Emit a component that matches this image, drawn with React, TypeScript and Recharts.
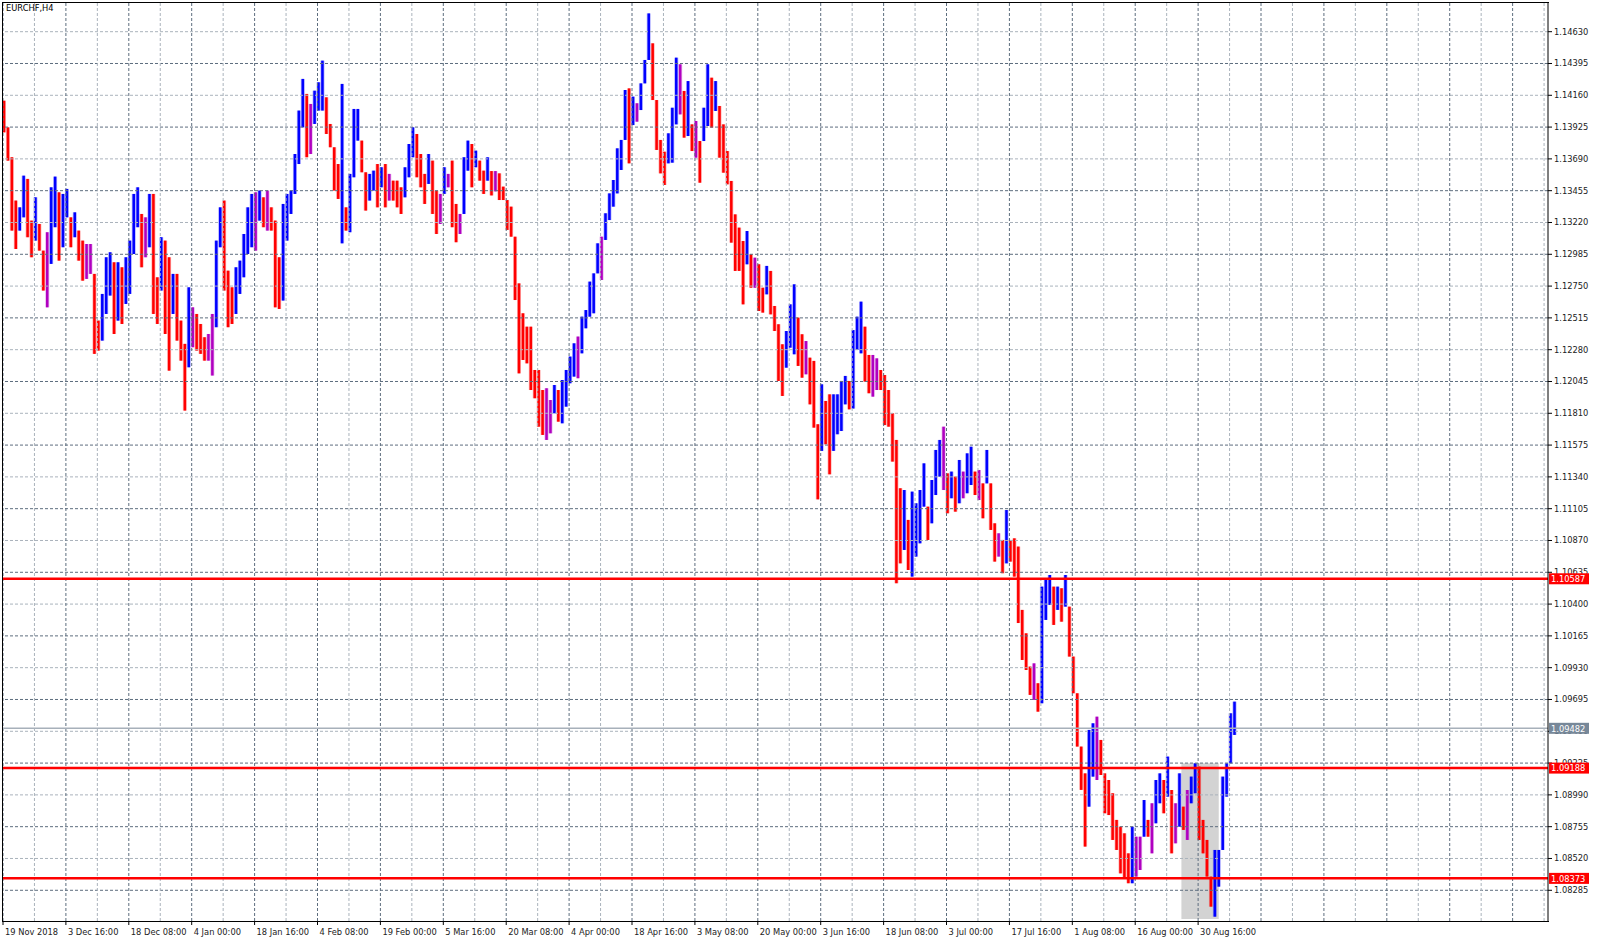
import React from "react";
import {
  ComposedChart,
  Bar,
  Cell,
  XAxis,
  YAxis,
  ReferenceLine,
  ReferenceArea,
} from "recharts";

// EURCHF H4, each entry = 4 consecutive H4 bars (high / low)
const BAR_HIGH = [
  1.1412, 1.13923, 1.13702, 1.13382, 1.13332, 1.13566, 1.13542, 1.13234, 1.13406, 1.13209,
  1.13012, 1.13148, 1.1348, 1.13559, 1.13443, 1.13431, 1.13468, 1.13258, 1.13295, 1.1316,
  1.13086, 1.13061, 1.13061, 1.1284, 1.12495, 1.12692, 1.12963, 1.13, 1.12926, 1.12926,
  1.12889, 1.12963, 1.13086, 1.13431, 1.1348, 1.13283, 1.13258, 1.13431, 1.13431, 1.12815,
  1.13111, 1.13086, 1.12963, 1.1284, 1.1284, 1.12495, 1.12323, 1.12741, 1.12593, 1.12544,
  1.1247, 1.12372, 1.12396, 1.12544, 1.13086, 1.13332, 1.13382, 1.12864, 1.12741, 1.12889,
  1.12938, 1.13135, 1.13332, 1.13431, 1.13443, 1.13456, 1.13406, 1.13456, 1.13332, 1.13234,
  1.12963, 1.13357, 1.13431, 1.13456, 1.13726, 1.14047, 1.14281, 1.1417, 1.14096, 1.14194,
  1.14256, 1.14416, 1.14145, 1.13948, 1.13776, 1.13652, 1.14244, 1.13332, 1.13579, 1.14059,
  1.14059, 1.13825, 1.13591, 1.13579, 1.13603, 1.13652, 1.13628, 1.13652, 1.13579, 1.13529,
  1.13529, 1.1348, 1.13628, 1.138, 1.13923, 1.13874, 1.13726, 1.13579, 1.13726, 1.13677,
  1.13456, 1.13431, 1.13628, 1.13579, 1.13677, 1.13357, 1.13283, 1.13702, 1.13825, 1.138,
  1.13751, 1.13677, 1.13603, 1.13702, 1.136, 1.136, 1.13583, 1.13485, 1.13386, 1.13337,
  1.13115, 1.1277, 1.12549, 1.1245, 1.1245, 1.1213, 1.1213, 1.11982, 1.11995, 1.11908,
  1.12019, 1.11982, 1.12056, 1.1213, 1.12229, 1.12327, 1.12377, 1.12524, 1.12573, 1.12783,
  1.12844, 1.13066, 1.13115, 1.13288, 1.13435, 1.13534, 1.13768, 1.1383, 1.14199, 1.14211,
  1.1415, 1.14101, 1.14248, 1.14421, 1.14765, 1.14544, 1.14125, 1.1383, 1.13743, 1.13879,
  1.14068, 1.14438, 1.14389, 1.14192, 1.14265, 1.13945, 1.1397, 1.13822, 1.14068, 1.14389,
  1.1429, 1.14265, 1.14081, 1.13945, 1.13748, 1.13527, 1.1328, 1.13182, 1.13083, 1.13157,
  1.12985, 1.1296, 1.12911, 1.12738, 1.12899, 1.12862, 1.12603, 1.12468, 1.1232, 1.12418,
  1.12615, 1.12763, 1.12517, 1.12394, 1.12344, 1.12221, 1.12197, 1.11729, 1.12024, 1.11901,
  1.1195, 1.1195, 1.1195, 1.12049, 1.12086, 1.12049, 1.12425, 1.12524, 1.12635, 1.1245,
  1.12241, 1.12241, 1.12216, 1.1213, 1.12093, 1.11982, 1.1181, 1.11613, 1.11256, 1.11243,
  1.11022, 1.11231, 1.11145, 1.11243, 1.1144, 1.1112, 1.11317, 1.11539, 1.11613, 1.11711,
  1.11366, 1.11379, 1.11342, 1.11465, 1.11379, 1.11514, 1.11563, 1.11379, 1.11391, 1.11292,
  1.11539, 1.11292, 1.10997, 1.10923, 1.10874, 1.11095, 1.10874, 1.10886, 1.10825, 1.10357,
  1.10184, 1.09938, 1.09962, 1.09815, 1.10529, 1.10578, 1.10615, 1.10529, 1.10529, 1.10517,
  1.10615, 1.10381, 1.10012, 1.09741, 1.09347, 1.09149, 1.0947, 1.09519, 1.09568, 1.09396,
  1.09149, 1.091, 1.09002, 1.08805, 1.08755, 1.08706, 1.08558, 1.08755, 1.08681, 1.08681,
  1.08952, 1.08805, 1.08928, 1.091, 1.09149, 1.091, 1.09273, 1.09026, 1.08928, 1.09149,
  1.08903, 1.09026, 1.09125, 1.09223, 1.09199, 1.08805, 1.08657, 1.08386, 1.08583, 1.08583,
  1.09125, 1.09223, 1.09593, 1.09679,
];

const BAR_LOW = [
  1.13886, 1.13677, 1.1316, 1.13024, 1.1316, 1.13258, 1.13111, 1.12963, 1.13086, 1.13012,
  1.12717, 1.12593, 1.12914, 1.13185, 1.12938, 1.13037, 1.13258, 1.13037, 1.13111, 1.12938,
  1.1279, 1.12803, 1.1284, 1.12249, 1.12273, 1.12347, 1.12544, 1.1268, 1.12396, 1.12495,
  1.1247, 1.12618, 1.12692, 1.12987, 1.13185, 1.12889, 1.12963, 1.13037, 1.12544, 1.1247,
  1.12717, 1.12396, 1.12125, 1.12544, 1.12347, 1.12199, 1.1183, 1.1215, 1.12298, 1.12273,
  1.12249, 1.12199, 1.12199, 1.12089, 1.12446, 1.13037, 1.12717, 1.12446, 1.1247, 1.12544,
  1.12692, 1.12815, 1.12987, 1.13037, 1.13012, 1.13234, 1.13185, 1.1316, 1.1316, 1.12593,
  1.12581, 1.12643, 1.13086, 1.13283, 1.13431, 1.13652, 1.13923, 1.13702, 1.13726, 1.13948,
  1.14047, 1.14047, 1.13874, 1.13776, 1.13456, 1.13394, 1.13066, 1.1316, 1.13148, 1.13554,
  1.13825, 1.13591, 1.13308, 1.13382, 1.13456, 1.13332, 1.1348, 1.13332, 1.13382, 1.13382,
  1.13332, 1.13283, 1.13406, 1.13554, 1.13702, 1.13554, 1.1348, 1.13357, 1.13505, 1.13283,
  1.13135, 1.13209, 1.13431, 1.1348, 1.13185, 1.13074, 1.13135, 1.13283, 1.13603, 1.1348,
  1.13628, 1.13529, 1.13431, 1.13529, 1.1342, 1.1345, 1.13386, 1.13386, 1.13165, 1.13115,
  1.12647, 1.12105, 1.12204, 1.12179, 1.11982, 1.11921, 1.11711, 1.1165, 1.11613, 1.11662,
  1.1181, 1.11748, 1.11736, 1.11859, 1.12032, 1.12081, 1.12069, 1.12253, 1.12438, 1.12524,
  1.12549, 1.12844, 1.12795, 1.13091, 1.13238, 1.13337, 1.13435, 1.13608, 1.1383, 1.13657,
  1.1394, 1.13965, 1.14051, 1.14248, 1.14421, 1.14125, 1.13756, 1.13583, 1.13497, 1.13657,
  1.13662, 1.13945, 1.14019, 1.13847, 1.13859, 1.13748, 1.13699, 1.13514, 1.13822, 1.13933,
  1.13921, 1.14044, 1.13699, 1.13588, 1.13502, 1.13071, 1.12862, 1.12862, 1.12615, 1.12911,
  1.12738, 1.12738, 1.12566, 1.12554, 1.12689, 1.12541, 1.12418, 1.12049, 1.11938, 1.12147,
  1.12295, 1.12246, 1.1216, 1.12073, 1.12098, 1.11876, 1.11704, 1.11174, 1.11532, 1.11581,
  1.11359, 1.11532, 1.11655, 1.11679, 1.11876, 1.11839, 1.11845, 1.12278, 1.12253, 1.12044,
  1.11958, 1.11933, 1.11982, 1.11982, 1.11723, 1.11711, 1.11453, 1.10554, 1.10701, 1.108,
  1.10652, 1.10603, 1.10751, 1.10849, 1.1112, 1.10874, 1.10997, 1.11206, 1.11342, 1.11243,
  1.11071, 1.11182, 1.11083, 1.11145, 1.11182, 1.11219, 1.1128, 1.11206, 1.11169, 1.11034,
  1.11292, 1.10948, 1.10714, 1.10751, 1.10628, 1.10701, 1.10714, 1.10603, 1.1026, 1.09987,
  1.09913, 1.09729, 1.09692, 1.09605, 1.09667, 1.10283, 1.10394, 1.10246, 1.10357, 1.1027,
  1.10381, 1.10012, 1.09741, 1.09347, 1.09027, 1.08608, 1.08903, 1.09125, 1.091, 1.09137,
  1.08854, 1.08841, 1.08657, 1.08583, 1.0841, 1.08373, 1.08337, 1.08337, 1.08386, 1.08435,
  1.08681, 1.08681, 1.08558, 1.0878, 1.08928, 1.08854, 1.08977, 1.08558, 1.08632, 1.08755,
  1.08731, 1.08657, 1.08928, 1.09002, 1.08657, 1.08558, 1.08386, 1.08164, 1.0809, 1.08312,
  1.08583, 1.08977, 1.09223, 1.09433,
];

const TIME_LABELS = [
  "19 Nov 2018", "3 Dec 16:00", "18 Dec 08:00", "4 Jan 00:00", "18 Jan 16:00",
  "4 Feb 08:00", "19 Feb 00:00", "5 Mar 16:00", "20 Mar 08:00", "4 Apr 00:00",
  "18 Apr 16:00", "3 May 08:00", "20 May 00:00", "3 Jun 16:00", "18 Jun 08:00",
  "3 Jul 00:00", "17 Jul 16:00", "1 Aug 08:00", "16 Aug 00:00", "30 Aug 16:00",
];

const PRICE_TICKS = [
  1.1463, 1.14395, 1.1416, 1.13925, 1.1369, 1.13455, 1.1322, 1.12985, 1.1275, 1.12515,
  1.1228, 1.12045, 1.1181, 1.11575, 1.1134, 1.11105, 1.1087, 1.10635, 1.104, 1.10165,
  1.0993, 1.09695, 1.0946, 1.09225, 1.0899, 1.08755, 1.0852, 1.08285,
];

const LEVELS = [1.10587, 1.09188, 1.08373];
const BID = 1.09482;
// shaded rectangle: bar indices and prices
const ZONE_BARS = [1199, 1237];
const ZONE_PRICES = [1.08073, 1.09223];

const BARS_PER_POINT = 4;
const BARS_PER_LABEL = 64;
const TOTAL_BARS = 1572;
const PRICE_MIN = 1.08058;
const PRICE_MAX = 1.14842;

const FONT = "'DejaVu Sans', Tahoma, sans-serif";
const UP = "#0000ff";
const DOWN = "#ff0000";
const FLAT = "#b000c0";
const LEVEL_RED = "#ff0000";
const BID_GREY = "#778899";

const data = BAR_HIGH.map((h, i) => ({
  t: BARS_PER_POINT * i + 1.5,
  range: [BAR_LOW[i], h],
}));

const colors = BAR_HIGH.map((h, i) => {
  if (i === 0) return DOWN;
  const mid = (h + BAR_LOW[i]) / 2;
  const prev = (BAR_HIGH[i - 1] + BAR_LOW[i - 1]) / 2;
  if (mid - prev > 0.00025) return UP;
  if (mid - prev < -0.00025) return DOWN;
  return FLAT;
});

const tagPrices = [...LEVELS, BID];
const timeTicks = TIME_LABELS.map((_, k) => k * BARS_PER_LABEL);
const gridX: number[] = [];
for (let b = 0; b <= TOTAL_BARS; b += BARS_PER_LABEL / 2) gridX.push(b);

const TimeTick = (props: any) => {
  const { x, y, payload } = props;
  const label = TIME_LABELS[Math.round(payload.value / BARS_PER_LABEL)];
  return (
    <text x={x + 2} y={y + 8} fontSize={8.3} fontFamily={FONT} fill="#222" textAnchor="start">
      {label}
    </text>
  );
};

// price boxes on top of the price scale, drawn by a thin second axis
const TagTick = (props: any) => {
  const { x, y, payload } = props;
  const v = payload.value;
  const fill = v === BID ? BID_GREY : LEVEL_RED;
  const left = x - 50;
  return (
    <g>
      <rect x={left} y={y - 5.5} width={40} height={11} fill={fill} />
      <text x={left + 2} y={y + 3.2} fontSize={8.3} fontFamily={FONT} fill="#fff">
        {v.toFixed(5)}
      </text>
    </g>
  );
};

const Stick = (props: any) => {
  const { x, y, width, height, fill } = props;
  if (height == null || isNaN(height)) return null;
  return (
    <g>
      <rect x={x - 0.5} y={y} width={width + 1} height={height} fill={fill} fillOpacity={0.3} />
      <rect x={x + 0.25} y={y} width={width - 0.5} height={height} fill={fill} />
    </g>
  );
};

export default function App() {
  return (
    <div style={{ position: "fixed", left: 0, top: 0, width: 1600, height: 943, background: "#fff" }}>
      <ComposedChart
        width={1600}
        height={943}
        data={data}
        margin={{ top: 3, right: 0, bottom: 0, left: 3 }}
      >
        <XAxis
          type="number"
          dataKey="t"
          domain={[0, TOTAL_BARS]}
          ticks={timeTicks}
          interval={0}
          height={22}
          axisLine={false}
          tickLine={{ stroke: "#000" }}
          tickSize={4}
          tick={<TimeTick />}
          allowDataOverflow
        />
        <YAxis
          orientation="right"
          type="number"
          domain={[PRICE_MIN, PRICE_MAX]}
          ticks={PRICE_TICKS}
          interval={0}
          width={51}
          allowDataOverflow
          axisLine={{ stroke: "#000" }}
          tickLine={{ stroke: "#000" }}
          tickSize={4}
          tick={{ fontSize: 8.3, fontFamily: FONT, fill: "#222" }}
          tickFormatter={(v: number) => v.toFixed(5)}
        />
        <YAxis
          yAxisId="tags"
          orientation="right"
          type="number"
          domain={[PRICE_MIN, PRICE_MAX]}
          ticks={tagPrices}
          interval={0}
          width={1}
          allowDataOverflow
          axisLine={false}
          tickLine={false}
          tickSize={0}
          tickMargin={0}
          tick={<TagTick />}
        />
        {PRICE_TICKS.map((p, k) => (
          <ReferenceLine
            key={"h" + k}
            y={p}
            stroke={k % 2 === 1 ? "#5d6d7e" : "#aab3bc"}
            strokeDasharray="3 2"
          />
        ))}
        {gridX.map((b, k) => (
          <ReferenceLine
            key={"v" + k}
            x={b}
            stroke={k % 2 === 0 ? "#5d6d7e" : "#aab3bc"}
            strokeDasharray="3 2"
          />
        ))}
        <ReferenceArea
          x1={ZONE_BARS[0]}
          x2={ZONE_BARS[1]}
          y1={ZONE_PRICES[0]}
          y2={ZONE_PRICES[1]}
          fill="#d3d3d3"
          fillOpacity={1}
          stroke="none"
        />
        <Bar dataKey="range" barSize={3} isAnimationActive={false} shape={<Stick />}>
          {data.map((_, i) => (
            <Cell key={i} fill={colors[i]} />
          ))}
        </Bar>
        {LEVELS.map((p) => (
          <ReferenceLine key={"l" + p} y={p} stroke={LEVEL_RED} strokeWidth={2.5} />
        ))}
        <ReferenceLine y={BID} stroke="#a7b0ba" strokeWidth={1.5} />
      </ComposedChart>
      <div
        style={{
          position: "absolute",
          left: 2,
          top: 2,
          width: 1547,
          height: 920,
          border: "1px solid #000",
          borderRight: "none",
          boxSizing: "border-box",
          pointerEvents: "none",
        }}
      />
      <div
        style={{
          position: "absolute",
          left: 6,
          top: 3,
          fontSize: 8.3,
          fontFamily: FONT,
          color: "#000",
        }}
      >
        EURCHF,H4
      </div>
    </div>
  );
}
